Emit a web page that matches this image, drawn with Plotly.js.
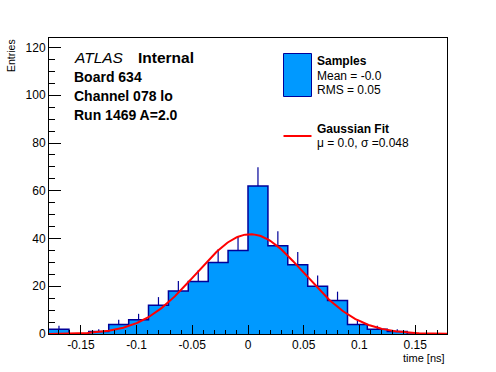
<!DOCTYPE html>
<html>
<head>
<meta charset="utf-8">
<script src="https://cdn.plot.ly/plotly-3.0.1.min.js"></script>
<style>html,body{margin:0;padding:0;background:#fff;}#chart{width:496px;height:372px;}</style>
</head>
<body>
<div id="chart"></div>
<script>
// ---- data ----
var binEdges = [-0.1786, -0.1607, -0.1429, -0.1250, -0.1071, -0.0893, -0.0714, -0.0536, -0.0357, -0.0179, 0.0,
                0.0179, 0.0357, 0.0536, 0.0714, 0.0893, 0.1071, 0.1250, 0.1429, 0.1607, 0.1786];
var counts   = [2, 0, 1, 4, 6, 12, 18, 22, 30, 35, 62, 37, 29, 20, 14, 4, 2, 1, 0, 0];
var errors   = [1.41, 0, 1, 2, 2.45, 3.46, 4.24, 4.69, 5.48, 5.92, 7.87, 6.08, 5.39, 4.47, 3.74, 2, 1.41, 1, 0, 0];
// Gaussian fit parameters
var fitMu = 0.002, fitSigma = 0.0485, fitAmp = 41.8;
var xTickVals = [-0.15, -0.1, -0.05, 0, 0.05, 0.1, 0.15];
var xTickText = ['-0.15', '-0.1', '-0.05', '0', '0.05', '0.1', '0.15'];
var yTickVals = [0, 20, 40, 60, 80, 100, 120];
var yTickText = ['0', '20', '40', '60', '80', '100', '120'];
var labelLines = ['Board 634', 'Channel 078 lo', 'Run 1469 A=2.0'];
var legendSamples = ['Samples', 'Mean = -0.0', 'RMS = 0.05'];
var legendFit = ['Gaussian Fit', '\u03bc = 0.0, \u03c3 =0.048'];

// ---- derived ----
var centers = [], stepX = [], stepY = [];
for (var i = 0; i < counts.length; i++) {
  centers.push((binEdges[i] + binEdges[i + 1]) / 2);
  stepX.push(binEdges[i]); stepY.push(counts[i]);
}
stepX.push(binEdges[binEdges.length - 1]); stepY.push(counts[counts.length - 1]);
var xMin = binEdges[0], xMax = binEdges[binEdges.length - 1];
var fitX = [], fitY = [];
for (var k = 0; k <= 300; k++) {
  var x = xMin + (xMax - xMin) * k / 300;
  fitX.push(x);
  fitY.push(fitAmp * Math.exp(-0.5 * Math.pow((x - fitMu) / fitSigma, 2)));
}

var FONT = 'Liberation Sans, Arial, Helvetica, sans-serif';
var FILL = '#0099ff', EDGE = '#000099';

var traces = [
  { // error bars (drawn first so the fill hides the lower half)
    x: centers, y: counts, type: 'scatter', mode: 'markers',
    marker: {size: 1, color: 'rgba(0,0,0,0)'},
    error_y: {type: 'data', array: errors, visible: true, color: EDGE, thickness: 1.2, width: 0},
    hoverinfo: 'skip', showlegend: false
  },
  { // histogram
    x: stepX, y: stepY, type: 'scatter', mode: 'lines',
    line: {shape: 'hv', color: EDGE, width: 1.5},
    fill: 'tozeroy', fillcolor: FILL, showlegend: false
  },
  { // gaussian fit
    x: fitX, y: fitY, type: 'scatter', mode: 'lines',
    line: {color: '#ff0000', width: 2}, showlegend: false
  }
];

function px(X) { return (X - 49) / 398; }
function py(Y) { return (334 - Y) / 296; }

var ann = [];
function txt(t, X, Y, size, xa, extra) {
  var a = {text: t, x: px(X), y: py(Y), xref: 'paper', yref: 'paper', showarrow: false,
    xanchor: xa || 'left', yanchor: 'middle', borderpad: 0,
    font: {family: FONT, size: size, color: '#000'}};
  if (extra) for (var k in extra) a[k] = extra[k];
  ann.push(a);
}
txt('<i>ATLAS</i>', 73, 58, 15.5);
txt('<b>Internal</b>', 137, 58, 15.5);
txt('<b>' + labelLines[0] + '</b>', 73, 76.5, 14);
txt('<b>' + labelLines[1] + '</b>', 73, 95.5, 14);
txt('<b>' + labelLines[2] + '</b>', 73, 114.5, 14);
txt('<b>' + legendSamples[0] + '</b>', 316, 61, 12);
txt(legendSamples[1], 316, 76, 12);
txt(legendSamples[2], 316, 90, 12);
txt('<b>' + legendFit[0] + '</b>', 316, 128.5, 12);
txt(legendFit[1], 316, 142.5, 12);
txt('time [ns]', 446, 357.5, 11, 'right');
ann.push({text: 'Entries', x: px(11), y: py(38.5), xref: 'paper', yref: 'paper', showarrow: false,
  textangle: -90, xanchor: 'center', yanchor: 'top', borderpad: 0,
  font: {family: FONT, size: 10.5, color: '#000'}});

var shapes = [
  {type: 'rect', xref: 'paper', yref: 'paper', x0: px(283.5), x1: px(311.5), y0: py(96.5), y1: py(53.5),
   fillcolor: FILL, line: {color: EDGE, width: 1}},
  {type: 'line', xref: 'paper', yref: 'paper', x0: px(283.5), x1: px(311.5), y0: py(136), y1: py(136),
   line: {color: '#ff0000', width: 2}}
];

var layout = {
  width: 496, height: 372,
  margin: {l: 49, r: 49, t: 38, b: 38, pad: 0},
  paper_bgcolor: '#fff', plot_bgcolor: '#fff',
  font: {family: FONT, size: 12, color: '#000'},
  showlegend: false,
  xaxis: {
    range: [xMin, xMax], tickmode: 'array', tickvals: xTickVals, ticktext: xTickText,
    ticks: 'inside', ticklen: 9, tickwidth: 1, tickcolor: '#000',
    minor: {ticks: 'inside', ticklen: 4.5, tickwidth: 1, tickcolor: '#000', tickmode: 'linear', tick0: 0, dtick: 0.01, showgrid: false},
    showline: true, linecolor: '#000', linewidth: 1, mirror: true,
    showgrid: false, zeroline: false, tickfont: {family: FONT, size: 12}
  },
  yaxis: {
    range: [0, 124], tickmode: 'array', tickvals: yTickVals, ticktext: yTickText,
    ticks: 'inside', ticklen: 12, tickwidth: 1, tickcolor: '#000',
    minor: {ticks: 'inside', ticklen: 6, tickwidth: 1, tickcolor: '#000', tickmode: 'linear', tick0: 0, dtick: 5, showgrid: false},
    showline: true, linecolor: '#000', linewidth: 1, mirror: true,
    showgrid: false, zeroline: false, tickfont: {family: FONT, size: 12}
  },
  annotations: ann,
  shapes: shapes
};

Plotly.newPlot('chart', traces, layout, {staticPlot: true, displayModeBar: false});
</script>
</body>
</html>
